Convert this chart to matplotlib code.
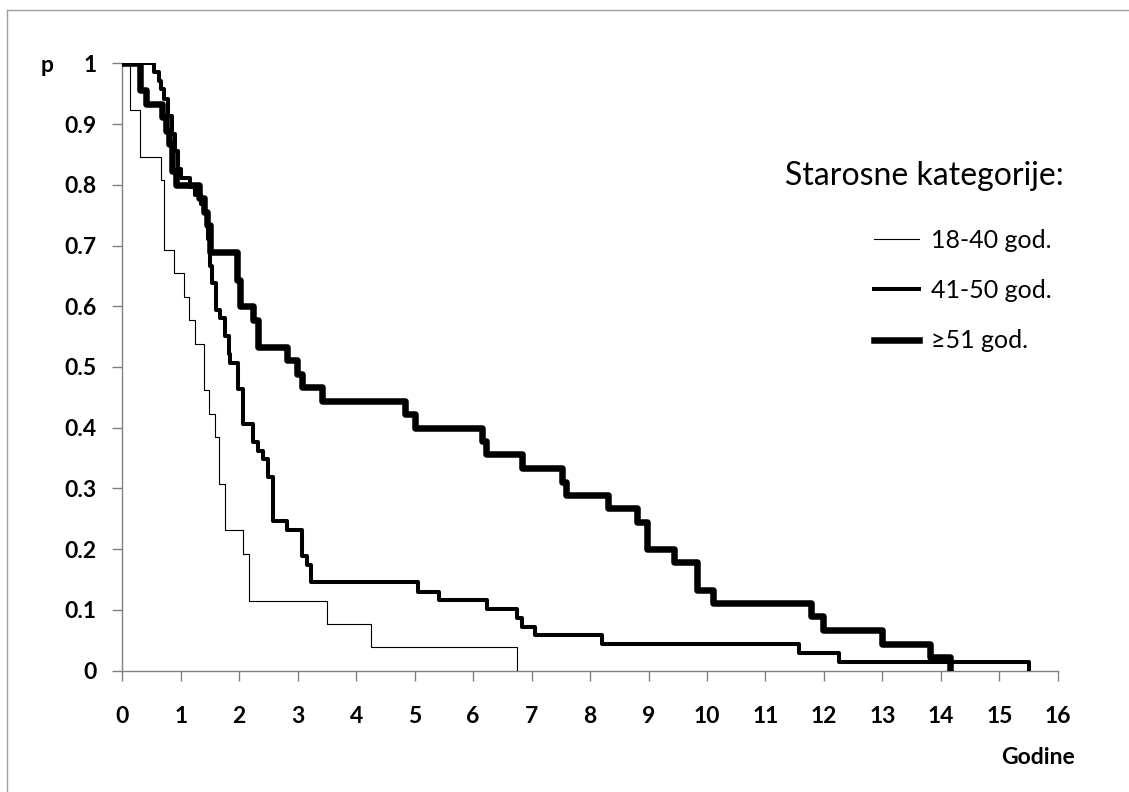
import matplotlib.pyplot as plt
from matplotlib.lines import Line2D

# Kaplan-Meier krive po starosnim kategorijama (ocitano sa slike)
t_18_40 = [0, 0.14, 0.31, 0.66, 0.71, 0.88, 1.06, 1.14, 1.24, 1.40, 1.48, 1.59,
           1.65, 1.75, 2.07, 2.16, 3.50, 4.25, 6.75]
p_18_40 = [1, 0.923, 0.846, 0.808, 0.692, 0.654, 0.615, 0.577, 0.538, 0.462, 0.423,
           0.385, 0.308, 0.231, 0.192, 0.115, 0.077, 0.038, 0]

t_41_50 = [0, 0.55, 0.62, 0.67, 0.72, 0.78, 0.85, 0.90, 0.95, 1.00, 1.15, 1.25,
           1.35, 1.42, 1.46, 1.50, 1.53, 1.60, 1.67, 1.76, 1.82, 1.85, 1.98, 2.07,
           2.24, 2.32, 2.41, 2.49, 2.57, 2.82, 3.08, 3.16, 3.23, 5.06, 5.42, 6.24,
           6.75, 6.84, 7.06, 8.21, 11.58, 12.25, 15.5]
p_41_50 = [1, 0.986, 0.971, 0.957, 0.942, 0.913, 0.884, 0.855, 0.826, 0.812, 0.797,
           0.783, 0.768, 0.754, 0.710, 0.667, 0.638, 0.594, 0.580, 0.551, 0.522,
           0.507, 0.464, 0.406, 0.377, 0.362, 0.348, 0.319, 0.246, 0.232, 0.188,
           0.174, 0.145, 0.130, 0.116, 0.101, 0.087, 0.072, 0.058, 0.043, 0.029,
           0.0145, 0]

t_51 = [0, 0.30, 0.40, 0.68, 0.75, 0.80, 0.85, 0.92, 1.32, 1.40, 1.45, 1.50, 1.97,
        2.02, 2.24, 2.32, 2.81, 2.98, 3.07, 3.41, 4.84, 5.00, 6.15, 6.22, 6.83,
        7.52, 7.58, 8.31, 8.80, 8.97, 9.43, 9.83, 10.10, 11.77, 11.99, 12.99,
        13.82, 14.16]
p_51 = [1, 0.956, 0.933, 0.911, 0.889, 0.867, 0.822, 0.800, 0.778, 0.756, 0.733,
        0.689, 0.644, 0.600, 0.578, 0.533, 0.511, 0.489, 0.467, 0.444, 0.422,
        0.400, 0.378, 0.356, 0.333, 0.311, 0.289, 0.267, 0.244, 0.200, 0.178,
        0.133, 0.111, 0.089, 0.067, 0.044, 0.022, 0]

labels = ['18-40 god.', '41-50 god.', '\u226551 god.']
xticks = list(range(0, 17))
yticks = [0, 0.1, 0.2, 0.3, 0.4, 0.5, 0.6, 0.7, 0.8, 0.9, 1]
ytick_labels = ['0', '0.1', '0.2', '0.3', '0.4', '0.5', '0.6', '0.7', '0.8', '0.9', '1']

plt.rcParams['font.family'] = ['Lato', 'DejaVu Sans']

fig = plt.figure(figsize=(11.29, 7.92), dpi=100)
ax = fig.add_axes([0.1083, 0.1534, 0.8287, 0.7666])

ax.step(t_18_40, p_18_40, where='post', color='black', lw=0.8, label=labels[0])
ax.step(t_41_50, p_41_50, where='post', color='black', lw=2.9, label=labels[1])
ax.step(t_51, p_51, where='post', color='black', lw=4.7, label=labels[2])

ax.set_xlim(0, 16)
ax.set_ylim(0, 1)
ax.set_xticks(xticks)
ax.set_yticks(yticks)
ax.set_yticklabels(ytick_labels)
for s in ['top', 'right']:
    ax.spines[s].set_visible(False)
for s in ['left', 'bottom']:
    ax.spines[s].set_color('#808080')
    ax.spines[s].set_linewidth(1.0)
    ax.spines[s].set_zorder(0)
ax.tick_params(axis='both', direction='out', length=7.5, width=1.0, color='#808080',
               labelsize=16.5)
ax.tick_params(axis='x', pad=18)
ax.tick_params(axis='y', pad=11)
for lab in ax.get_xticklabels() + ax.get_yticklabels():
    lab.set_fontweight('bold')

fig.text(47 / 1129, 1 - 66 / 792, 'p', fontsize=16.5, fontweight='bold',
         ha='center', va='center')
fig.text(1075 / 1129, 1 - 757 / 792, 'Godine', fontsize=16.5, fontweight='bold',
         ha='right', va='center')

# legenda
fig.text(785 / 1129, 1 - 176 / 792, 'Starosne kategorije:', fontsize=23,
         ha='left', va='center')
handles = [Line2D([], [], color='black', lw=0.8),
           Line2D([], [], color='black', lw=2.9),
           Line2D([], [], color='black', lw=4.7)]
fig.legend(handles, labels, loc='upper left', bbox_to_anchor=(851 / 1129, 1 - 206 / 792),
           frameon=False, fontsize=18, handlelength=1.8, handletextpad=0.5,
           labelspacing=1.1)

# okvir slike
fig.add_artist(Line2D([7 / 1129, 1], [1 - 10 / 792, 1 - 10 / 792],
                      color='#a0a0a0', lw=1.0))
fig.add_artist(Line2D([7 / 1129, 7 / 1129], [0, 1 - 10 / 792],
                      color='#a0a0a0', lw=1.0))

fig.savefig('out.png', dpi=100)
